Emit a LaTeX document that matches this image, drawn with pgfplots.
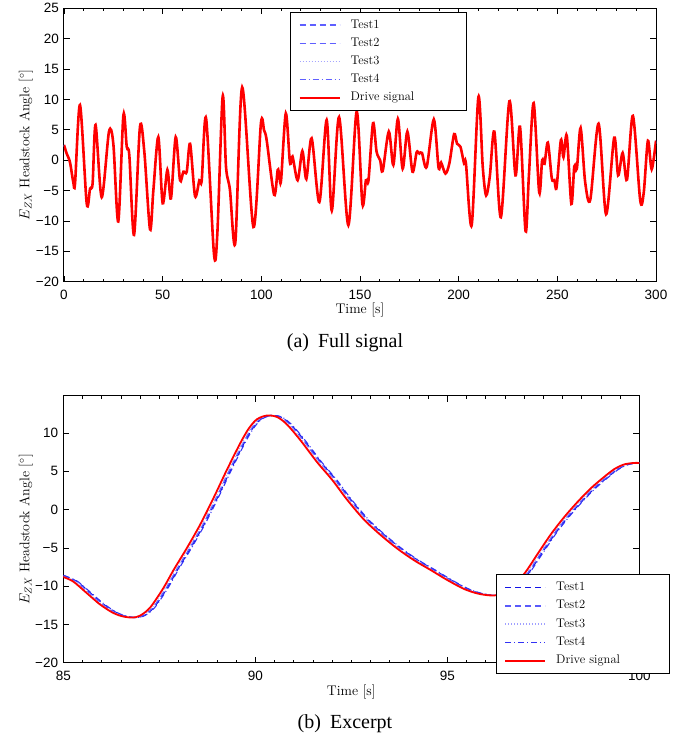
\documentclass[border=0pt]{standalone}
\usepackage{fontspec}
\usepackage{pgfplots}
\usepackage{pgfplotstable}
\pgfplotsset{compat=1.18}
\newfontfamily\ticksf{Liberation Sans}
\newfontfamily\capfont{Liberation Serif}

\definecolor{tone}{RGB}{20,20,230}
\definecolor{ttwo}{RGB}{90,90,250}
\definecolor{tthree}{RGB}{160,160,255}
\definecolor{tfour}{RGB}{50,50,245}
\definecolor{tlight}{RGB}{95,95,255}
\definecolor{tlighter}{RGB}{165,165,255}
\definecolor{drive}{RGB}{255,0,0}

\pgfplotstableread{
t v
0 2.5
1.35 1.1
3 -0.3
4.7 -3.6
5.6 -3.8
8.1 9.1
11.5 -7.1
13.2 -4.7
14.5 -3.8
16 5.8
19.1 -6.1
22.8 4.7
25 2.7
27.5 -10.1
30.1 7.4
31.8 2.2
33.1 0.8
35.5 -12.3
38.5 5.5
40.7 1.4
43.6 -11.4
45.3 -4.9
47.8 3.8
50 -7.1
52.4 -1.6
54.2 -6.3
56.6 3.8
58.8 -3.3
60.5 -1.9
62.2 -1.9
63.9 2.7
66.4 -5.9
68.6 -3.3
69.8 -3.3
72 6.9
76 -15.4
77.7 -12.1
80.4 10.5
82.1 -1.1
84.1 -4.9
86.8 -13.6
90.3 12.0
96.0 -11.0
99.8 6.1
101.4 4.9
102.7 3.3
106.5 -5.7
108.3 -1.6
109.1 -2.5
110 -3.3
112.4 7.7
114.5 -0.4
115.8 0.6
118.4 -3.3
120.8 1.5
122.8 -3.1
125.5 3.6
129.4 -6.9
133.1 6.6
135.7 -8.3
139.4 7.1
144.1 -10.7
148.3 8.0
151.2 -7.2
153 -3.3
154.3 -3.3
156.6 6.1
158.4 1.4
160.2 0
161.5 -1.8
164.6 4.7
166.9 -0.8
169.2 6.8
171.6 -1.4
174 4.7
176.6 -1.9
178.7 1.3
180.1 1.1
181.4 1.2
183.8 -1.1
187.4 6.7
189.8 -1.2
191.1 -0.4
193.3 -2.2
195.3 -0.5
197.7 4.3
199.2 2.7
200.9 2.2
202.8 -0.6
203.7 -0.6
206.6 -10.7
210 10.4
212.2 -1.1
213.9 -5.8
215.8 -2.6
218.1 4.7
221.4 -9.4
225.7 9.7
228.8 -2.5
231.1 5.5
233.9 -11.7
235.6 -2.5
238.0 9.4
240.8 -5.3
242.3 0
243.5 -0.6
245.2 2.9
247.2 -3.0
248.5 -3.3
249.6 -4.5
251.8 3.3
253.1 0.5
254.8 4.0
257.1 -7.2
258.6 -1.0
259.9 -1.4
261.8 5.3
264.1 -3.6
266.7 -6.5
270.9 6.0
274.7 -8.9
278.8 3.7
280.8 -2.5
283.1 1.2
285.3 -3.2
288.3 7.3
292.0 -6.6
293.8 -5.3
295.9 3.2
297.8 -1.5
300 3.2
}\fulldata

\pgfplotstableread{
t t1 t2 t3 t4 d
84.90 85.00 84.97 84.95 85.02 -8.6
85.00 85.10 85.07 85.05 85.12 -8.8
85.26 85.36 85.33 85.31 85.38 -9.4
85.61 85.71 85.68 85.66 85.73 -10.9
85.96 86.06 86.03 86.01 86.08 -12.4
86.30 86.40 86.37 86.35 86.42 -13.5
86.55 86.65 86.62 86.60 86.67 -13.95
86.80 86.90 86.87 86.85 86.92 -14.1
87.00 87.10 87.07 87.05 87.12 -13.85
87.26 87.36 87.33 87.31 87.38 -12.8
87.60 87.70 87.67 87.65 87.72 -10.3
87.87 87.97 87.94 87.92 87.99 -7.9
88.22 88.32 88.29 88.27 88.34 -5.0
88.57 88.67 88.64 88.62 88.69 -1.9
88.91 89.01 88.98 88.96 89.03 1.5
89.26 89.36 89.33 89.31 89.38 5.2
89.61 89.71 89.68 89.66 89.73 8.7
89.83 89.93 89.90 89.88 89.95 10.6
90.04 90.14 90.11 90.09 90.16 11.8
90.30 90.40 90.37 90.35 90.42 12.3
90.57 90.67 90.64 90.62 90.69 12.1
90.83 90.93 90.90 90.88 90.95 11.1
91.17 91.27 91.24 91.22 91.29 9.1
91.61 91.71 91.68 91.66 91.73 6.2
92.00 92.10 92.07 92.05 92.12 3.9
92.39 92.49 92.46 92.44 92.51 1.3
92.83 92.93 92.90 92.88 92.95 -1.3
93.26 93.36 93.33 93.31 93.38 -3.3
93.70 93.80 93.77 93.75 93.82 -5.1
94.13 94.23 94.20 94.18 94.25 -6.6
94.57 94.67 94.64 94.62 94.69 -7.9
95.00 95.10 95.07 95.05 95.12 -9.2
95.43 95.53 95.50 95.48 95.55 -10.35
95.78 95.88 95.85 95.83 95.90 -10.95
96.10 96.20 96.17 96.15 96.22 -11.2
96.35 96.45 96.42 96.40 96.47 -11.1
96.65 96.75 96.72 96.70 96.77 -10.1
97.00 97.10 97.07 97.05 97.12 -8.4
97.35 97.45 97.42 97.40 97.47 -5.8
97.70 97.80 97.77 97.75 97.82 -3.2
98.04 98.14 98.11 98.09 98.16 -1.0
98.39 98.49 98.46 98.44 98.51 1.0
98.74 98.84 98.81 98.79 98.86 2.8
99.09 99.19 99.16 99.14 99.21 4.3
99.35 99.45 99.42 99.40 99.47 5.3
99.60 99.70 99.67 99.65 99.72 5.9
99.85 99.95 99.92 99.90 99.97 6.1
100.00 100.10 100.07 100.05 100.12 6.1
100.10 100.20 100.17 100.15 100.22 6.05
}\excerpt

\pgfplotsset{
  mystyle/.style={
    scale only axis, anchor=south west, clip=true,
    /pgf/number format/assume math mode=true,
    axis line style={line width=1pt},
    tick style={line width=0.8pt,black},
    major tick length=6pt, minor tick length=3pt,
    tick label style={font=\fontsize{13.5}{16}\ticksf},
    xticklabel style={inner sep=0pt, anchor=north, yshift=-8pt},
    yticklabel style={inner sep=0pt, anchor=east, xshift=-5pt},
    every axis x label/.style={at={(axis description cs:0.5,0)}, anchor=base, yshift=-32.3pt, font=\fontsize{14}{16}\selectfont},
    every axis y label/.style={rotate=90, anchor=base, font=\fontsize{14}{16}\selectfont},
    legend cell align=left,
    legend style={line width=1pt, fill=white,
      font=\fontsize{12.5}{14}\selectfont,
      inner xsep=8pt, inner ysep=7pt, row sep=6.2pt,
      nodes={inner sep=0pt, text height=9pt, text depth=3pt},
      /tikz/every odd column/.append style={column sep=10pt}},
  },
  dashs/.style={draw=#1, line width=1.1pt, dash pattern=on 6pt off 4pt,
    legend image code/.code={\draw[draw=#1, line width=1.4pt, dash pattern=on 6pt off 4pt] (0pt,0pt) -- (40pt,0pt);}},
  dots/.style={draw=#1, line width=1.1pt, dash pattern=on 1pt off 2pt,
    legend image code/.code={\draw[draw=#1, line width=1.4pt, dash pattern=on 1pt off 2pt] (0pt,0pt) -- (40pt,0pt);}},
  dashdots/.style={draw=#1, line width=1.1pt, dash pattern=on 6pt off 3pt on 1pt off 3pt,
    legend image code/.code={\draw[draw=#1, line width=1.4pt, dash pattern=on 6pt off 3pt on 1pt off 3pt] (0pt,0pt) -- (40pt,0pt);}},
  drs/.style={draw=drive, line width=#1,
    legend image code/.code={\draw[draw=drive, line width=2pt] (0pt,0pt) -- (40pt,0pt);}},
}

\begin{document}
\begin{tikzpicture}
\path[use as bounding box] (0,0) rectangle (690pt,742pt);

\begin{axis}[mystyle,
  at={(64pt,460.3pt)}, width=592pt, height=273.4pt,
  xmin=0, xmax=300, ymin=-20, ymax=25,
  xtick={0,50,100,150,200,250,300},
  xticklabels={0,50,100,150,200,250,300},
  minor x tick num=4,
  ytick={-20,-15,-10,-5,0,5,10,15,20,25},
  yticklabels={−20,−15,−10,−5,0,5,10,15,20,25},
  xlabel={Time [s]},
  ylabel={$E_{ZX}$ Headstock Angle [$^\circ$]},
  every axis y label/.append style={at={(axis description cs:-0.0583,0.5)}},
  legend style={at={(0.3818,0.9876)}, anchor=north west},
]
\addplot[dashs=tlight, smooth] table[x=t, y=v] {\fulldata};
\addlegendentry{Test1}
\addplot[dashs=tlight, smooth] table[x=t, y=v] {\fulldata};
\addlegendentry{Test2}
\addplot[dots=tlighter, smooth] table[x=t, y=v] {\fulldata};
\addlegendentry{Test3}
\addplot[dashdots=tlight, smooth] table[x=t, y=v] {\fulldata};
\addlegendentry{Test4}
\addplot[drs=2.6pt, smooth] table[x=t, y=v] {\fulldata};
\addlegendentry{\makebox[108pt][l]{Drive signal}}
\end{axis}

\begin{axis}[mystyle,
  at={(63.3pt,79.3pt)}, width=576pt, height=266.7pt,
  xmin=85, xmax=100, ymin=-20, ymax=14.85,
  xtick={85,90,95,100},
  xticklabels={85,90,95,100},
  minor x tick num=9,
  ytick={-20,-15,-10,-5,0,5,10},
  yticklabels={−20,−15,−10,−5,0,5,10},
  xlabel={Time [s]},
  ylabel={$E_{ZX}$ Headstock Angle [$^\circ$]},
  every axis y label/.append style={at={(axis description cs:-0.0587,0.5)}},
  legend style={at={(0.7507,0.3315)}, anchor=north west},
]
\addplot[dashs=tone, smooth] table[x=t1, y=d] {\excerpt};
\addlegendentry{Test1}
\addplot[dashs=ttwo, smooth] table[x=t2, y=d] {\excerpt};
\addlegendentry{Test2}
\addplot[dots=tthree, smooth] table[x=t3, y=d] {\excerpt};
\addlegendentry{Test3}
\addplot[dashdots=tfour, smooth] table[x=t4, y=d] {\excerpt};
\addlegendentry{Test4}
\addplot[drs=1.8pt, smooth] table[x=t, y=d] {\excerpt};
\addlegendentry{\makebox[105pt][l]{Drive signal}}
\end{axis}

\node[font=\fontsize{20}{24}\capfont, anchor=base] at (345pt,394pt) {(a)\hspace{0.45em}Full signal};
\node[font=\fontsize{20}{24}\capfont, anchor=base] at (345pt,13pt) {(b)\hspace{0.45em}Excerpt};
\end{tikzpicture}
\end{document}
